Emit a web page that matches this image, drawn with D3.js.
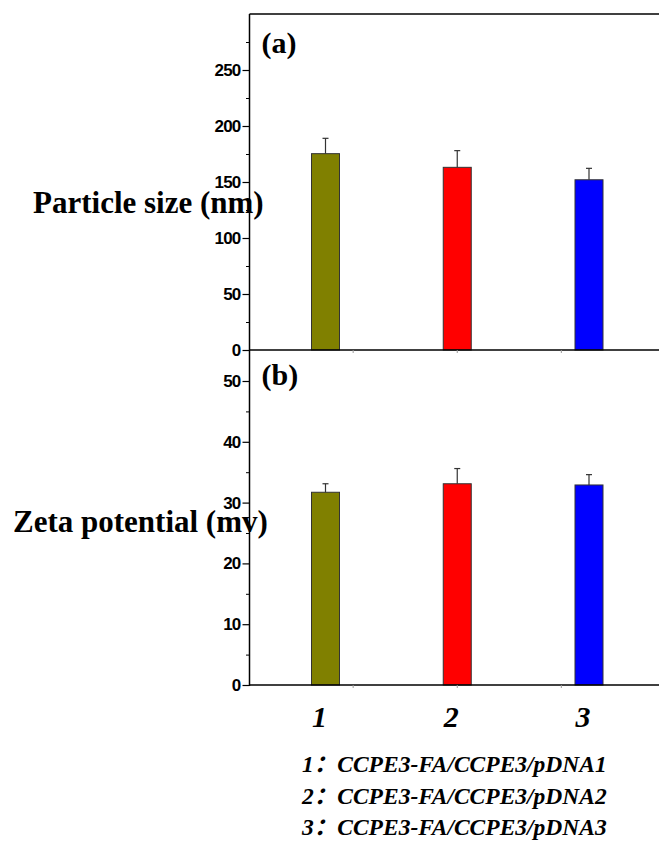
<!DOCTYPE html>
<html>
<head>
<meta charset="utf-8">
<script src="https://cdn.jsdelivr.net/npm/d3@7"></script>
<style>
  body { margin: 0; background: #fff; }
  svg { display: block; }
</style>
</head>
<body>
<div id="chart"></div>
<script>
// data
var categories = [1, 2, 3]
var barColors = ["#808000", "#ff0000", "#0000ff"]

// (a) particle size, nm
var sizeValues = [175.3, 163.1, 152.0]
var sizeErrors = [13.7, 14.9, 10.2]
var sizeTicks = [0, 50, 100, 150, 200, 250]
var sizeMinor = [25, 75, 125, 175, 225, 275]

// (b) zeta potential, mv
var zetaValues = [31.7, 33.1, 32.9]
var zetaErrors = [1.4, 2.5, 1.7]
var zetaTicks = [0, 10, 20, 30, 40, 50]
var zetaMinor = [5, 15, 25, 35, 45]

// faint x ticks on the bottom axes
var xMinor = [1.21, 2, 2.79]

var legendLines = [
    "1：CCPE3-FA/CCPE3/pDNA1",
    "2：CCPE3-FA/CCPE3/pDNA2",
    "3：CCPE3-FA/CCPE3/pDNA3"
]

var width = 659,
    height = 861
var left = 249.5, right = 662

var svg = d3.select("#chart")
    .append("svg")
    .attr("width", width)
    .attr("height", height)

var x = d3.scaleLinear()
    .domain([1, 3])
    .range([325.5, 589])

var barWidth = 28

var ySize = d3.scaleLinear().domain([0, 300]).range([350, 14])
var yZeta = d3.scaleLinear().domain([0, 55]).range([685, 350.6])

function DrawPanel(y, values, errors, ticks, minor, tag, tagY, title, titleX, titleY) {
    var g = svg.append("g")

    // bars
    g.selectAll("rect.bar")
        .data(values)
        .enter()
        .append("rect")
        .attr("class", "bar")
        .attr("x", function (d, i) { return x(categories[i]) - barWidth / 2 })
        .attr("y", function (d) { return y(d) })
        .attr("width", barWidth)
        .attr("height", function (d) { return y(0) - y(d) })
        .attr("fill", function (d, i) { return barColors[i] })
        .attr("stroke", "#333")
        .attr("stroke-width", 1)

    // error bars (upper half only)
    g.selectAll("line.err")
        .data(values)
        .enter()
        .append("line")
        .attr("x1", function (d, i) { return x(categories[i]) })
        .attr("x2", function (d, i) { return x(categories[i]) })
        .attr("y1", function (d) { return y(d) })
        .attr("y2", function (d, i) { return y(d + errors[i]) })
        .attr("stroke", "#333")
        .attr("stroke-width", 1.2)

    g.selectAll("line.cap")
        .data(values)
        .enter()
        .append("line")
        .attr("x1", function (d, i) { return x(categories[i]) - 3 })
        .attr("x2", function (d, i) { return x(categories[i]) + 3 })
        .attr("y1", function (d, i) { return y(d + errors[i]) })
        .attr("y2", function (d, i) { return y(d + errors[i]) })
        .attr("stroke", "#333")
        .attr("stroke-width", 1.2)

    // left axis with major and minor ticks
    var axis = g.append("g")
        .attr("transform", "translate(" + left + ",0)")
        .call(d3.axisLeft(y).tickValues(ticks).tickSize(7).tickPadding(2))
    axis.select(".domain").remove()
    axis.selectAll("line").attr("stroke", "#000").attr("stroke-width", 1.2)
    axis.selectAll("text")
        .attr("fill", "#000")
        .style("font-family", "'Liberation Sans', Arial, sans-serif")
        .style("font-weight", "bold")
        .style("font-size", "17px")
        .style("letter-spacing", "-0.8px")

    var minorAxis = g.append("g")
        .attr("transform", "translate(" + left + ",0)")
        .call(d3.axisLeft(y).tickValues(minor).tickSize(3.5).tickFormat(""))
    minorAxis.select(".domain").remove()
    minorAxis.selectAll("line").attr("stroke", "#000").attr("stroke-width", 1)

    // bottom axis line and faint ticks
    g.append("line")
        .attr("x1", left).attr("x2", right)
        .attr("y1", y(0)).attr("y2", y(0))
        .attr("stroke", "#000").attr("stroke-width", 1.5)

    g.selectAll("line.xminor")
        .data(xMinor)
        .enter()
        .append("line")
        .attr("x1", function (d) { return x(d) })
        .attr("x2", function (d) { return x(d) })
        .attr("y1", y(0))
        .attr("y2", y(0) + 3)
        .attr("stroke", "#999")
        .attr("stroke-width", 1)

    // panel tag
    g.append("text")
        .attr("x", left + 12)
        .attr("y", tagY)
        .text(tag)
        .style("font-family", "'Liberation Serif', 'Times New Roman', serif")
        .style("font-weight", "bold")
        .style("font-size", "30px")

    // axis title, drawn horizontally across the axis
    g.append("text")
        .attr("x", titleX)
        .attr("y", titleY)
        .text(title)
        .style("font-family", "'Liberation Serif', 'Times New Roman', serif")
        .style("font-weight", "bold")
        .style("font-size", "31px")
}

DrawPanel(ySize, sizeValues, sizeErrors, sizeTicks, sizeMinor, "(a)", 53, "Particle size (nm)", 33, 213)
DrawPanel(yZeta, zetaValues, zetaErrors, zetaTicks, zetaMinor, "(b)", 385, "Zeta potential (mv)", 13, 532)

// frame: left spine and top border
svg.append("line")
    .attr("x1", left).attr("x2", left)
    .attr("y1", ySize(300)).attr("y2", yZeta(0) + 1)
    .attr("stroke", "#000").attr("stroke-width", 1.5)

svg.append("line")
    .attr("x1", left).attr("x2", right)
    .attr("y1", ySize(300)).attr("y2", ySize(300))
    .attr("stroke", "#000").attr("stroke-width", 1.5)

// category labels
svg.selectAll("text.cat")
    .data(categories)
    .enter()
    .append("text")
    .attr("x", function (d) { return x(d) - 6 })
    .attr("y", 727)
    .attr("text-anchor", "middle")
    .text(function (d) { return d })
    .style("font-family", "'Liberation Serif', 'Times New Roman', serif")
    .style("font-weight", "bold")
    .style("font-style", "italic")
    .style("font-size", "30px")

// legend text
svg.selectAll("text.legend")
    .data(legendLines)
    .enter()
    .append("text")
    .attr("x", 302)
    .attr("y", function (d, i) { return 772 + i * 31.5 })
    .text(function (d) { return d })
    .style("font-family", "'Liberation Serif', 'Times New Roman', 'Noto Sans CJK SC', serif")
    .style("font-weight", "bold")
    .style("font-style", "italic")
    .style("font-size", "23.5px")
</script>
</body>
</html>
